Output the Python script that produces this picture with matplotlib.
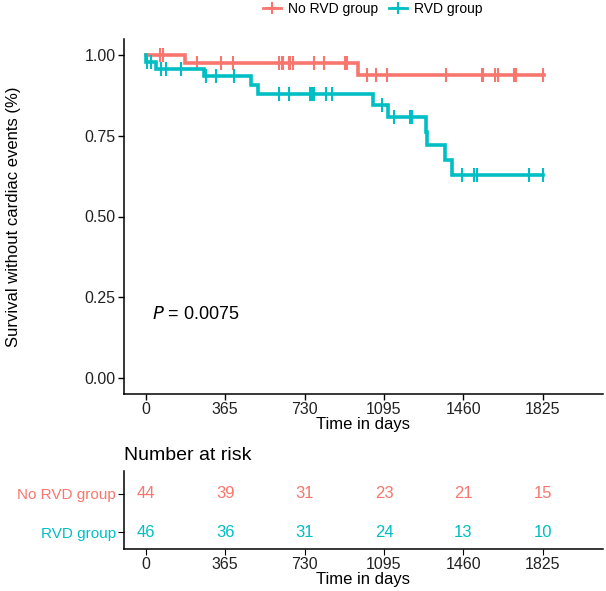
import numpy as np
import matplotlib
matplotlib.use("Agg")
import matplotlib.pyplot as plt
from matplotlib.lines import Line2D

plt.rcParams['font.family'] = ['Liberation Sans', 'DejaVu Sans']

# ── DATA ──────────────────────────────────────────────────────
GROUPS = ["No RVD group", "RVD group"]
COLORS = ["#F8766D", "#00BFC4"]

# No RVD group
norvd_event_t = [182, 976]
norvd_surv    = [0.977, 0.940]
norvd_cens_t  = [64, 78, 236, 345, 401, 611, 627, 631, 657, 665, 676, 774, 818,
                 915, 927, 1017, 1057, 1109, 1379, 1548, 1551, 1606, 1620, 1692,
                 1700, 1824]
norvd_end     = 1830

# RVD group
rvd_event_t = [2, 49, 267, 486, 516, 1045, 1114, 1290, 1292, 1375, 1409]
rvd_surv    = [0.978, 0.957, 0.934, 0.908, 0.881, 0.847, 0.807, 0.763, 0.721,
               0.674, 0.628]
rvd_cens_t  = [5, 26, 69, 92, 164, 279, 325, 405, 611, 659, 757, 766, 772, 828,
               854, 1087, 1142, 1214, 1225, 1455, 1508, 1523, 1760, 1825]
rvd_end     = 1828

risk_times = [0, 365, 730, 1095, 1460, 1825]
risk_norvd = [44, 39, 31, 23, 21, 15]
risk_rvd   = [46, 36, 31, 24, 13, 10]

p_value = "0.0075"


def step_curve(event_t, surv, end):
    t = [0] + list(event_t) + [end]
    s = [1.0] + list(surv) + [surv[-1]]
    return np.array(t), np.array(s)


def surv_at(event_t, surv, times):
    out = []
    for x in times:
        s = 1.0
        for et, sv in zip(event_t, surv):
            if et <= x:
                s = sv
        out.append(s)
    return np.array(out)


# ── FIGURE ───────────────────────────────────────────────────
W, H = 606, 591
fig = plt.figure(figsize=(W / 100, H / 100), dpi=100)


def box(l, t, r, b):
    return [l / W, 1 - b / H, (r - l) / W, (b - t) / H]


ax = fig.add_axes(box(124, 39, 603, 394))
XLIM = (-100, 2102)

series = [
    (norvd_event_t, norvd_surv, norvd_cens_t, norvd_end),
    (rvd_event_t, rvd_surv, rvd_cens_t, rvd_end),
]
for (et, sv, ct, end), col in zip(series, COLORS):
    t, s = step_curve(et, sv, end)
    ax.step(t, s, where="post", color=col, lw=2.6, solid_joinstyle="miter")
    ax.plot(ct, surv_at(et, sv, ct), ls="none", marker="|", ms=10, mew=1.5,
            color=col)

ax.set_xlim(*XLIM)
ax.set_ylim(-0.05, 1.05)
ax.set_xticks(risk_times)
ax.set_yticks([0, 0.25, 0.5, 0.75, 1.0])
ax.set_yticklabels(["0.00", "0.25", "0.50", "0.75", "1.00"])
ax.tick_params(labelsize=11.5, length=4, width=1, pad=2, colors="black",
               labelcolor="#222222")
for sp in ["top", "right"]:
    ax.spines[sp].set_visible(False)
for sp in ["left", "bottom"]:
    ax.spines[sp].set_linewidth(1.1)
ax.set_xlabel("Time in days", fontsize=12, labelpad=0)
ax.set_ylabel("Survival without cardiac events (%)", fontsize=12)
ax.yaxis.set_label_coords((21 - 124) / 479, 0.5)

ax.text(30, 0.195, "$P$ = " + p_value, fontsize=13, ha="left", va="center")

handles = [Line2D([], [], color=c, lw=2, marker="+", ms=9, mew=1.5)
           for c in COLORS]
fig.legend(handles, GROUPS, loc="center", bbox_to_anchor=(0.615, 1 - 9 / H),
           ncol=2, frameon=False, fontsize=10, handlelength=1.3,
           columnspacing=0.8, handletextpad=0.5)

# ── RISK TABLE ───────────────────────────────────────────────
rt = fig.add_axes(box(124, 471, 603, 549))
rt.set_xlim(*XLIM)
rt.set_ylim(0.553, 2.605)
for vals, col, yy in [(risk_norvd, COLORS[0], 2), (risk_rvd, COLORS[1], 1)]:
    for x, v in zip(risk_times, vals):
        rt.text(x, yy, str(v), color=col, fontsize=12, ha="center",
                va="center")
rt.set_yticks([2, 1])
rt.set_yticklabels(GROUPS, fontsize=11)
for lbl, col in zip(rt.get_yticklabels(), COLORS):
    lbl.set_color(col)
rt.set_xticks(risk_times)
rt.tick_params(axis="x", labelsize=11.5, length=4, pad=2,
               labelcolor="#222222")
rt.tick_params(axis="y", length=4, pad=2)
for sp in ["top", "right"]:
    rt.spines[sp].set_visible(False)
for sp in ["left", "bottom"]:
    rt.spines[sp].set_linewidth(1.1)
rt.set_xlabel("Time in days", fontsize=12, labelpad=0)
fig.text(124 / W, 1 - 456 / H, "Number at risk", fontsize=14, ha="left",
         va="center")

fig.savefig("out.png", dpi=100)
